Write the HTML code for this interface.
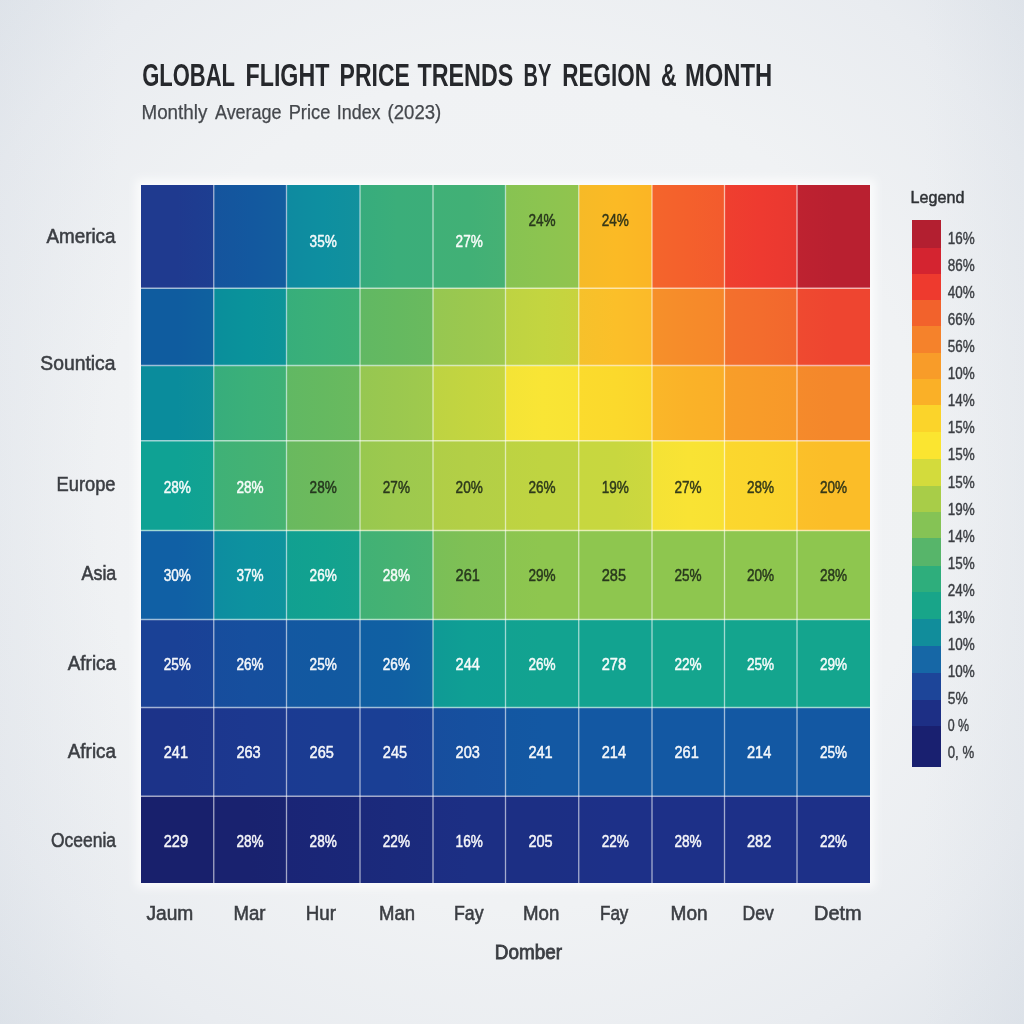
<!DOCTYPE html>
<html lang="en"><head><meta charset="utf-8"><title>Global Flight Price Trends by Region &amp; Month</title>
<style>
html,body{margin:0;padding:0;background:#eceef1;}
body{width:1024px;height:1024px;overflow:hidden;}
svg{display:block;font-family:"Liberation Sans",sans-serif;}
</style></head><body>
<svg width="1024" height="1024" viewBox="0 0 1024 1024">
<defs>
<radialGradient id="bg" cx="50%" cy="48%" r="74%">
<stop offset="0" stop-color="#f3f4f6"/><stop offset="0.55" stop-color="#f0f2f4"/><stop offset="0.8" stop-color="#e9ecf0"/><stop offset="1" stop-color="#dfe4ea"/>
</radialGradient>
<linearGradient id="le" x1="0" y1="0" x2="1" y2="0">
<stop offset="0" stop-color="#c9d1dc" stop-opacity="0.16"/><stop offset="1" stop-color="#c9d1dc" stop-opacity="0"/>
</linearGradient>
<linearGradient id="re" x1="1" y1="0" x2="0" y2="0">
<stop offset="0" stop-color="#c9d1dc" stop-opacity="0.16"/><stop offset="1" stop-color="#c9d1dc" stop-opacity="0"/>
</linearGradient>
<filter id="gl" x="-5%" y="-5%" width="110%" height="110%"><feGaussianBlur stdDeviation="4"/></filter>
</defs>
<rect width="1024" height="1024" fill="url(#bg)"/>
<rect x="0" y="0" width="120" height="1024" fill="url(#le)"/>
<rect x="924" y="0" width="100" height="1024" fill="url(#re)"/>
<g font-size="31.5" font-weight="bold" fill="#26282c">
<text x="142.2" y="86.2" textLength="92.8" lengthAdjust="spacingAndGlyphs">GLOBAL</text>
<text x="245.5" y="86.2" textLength="83.9" lengthAdjust="spacingAndGlyphs">FLIGHT</text>
<text x="339.6" y="86.2" textLength="70.2" lengthAdjust="spacingAndGlyphs">PRICE</text>
<text x="417.5" y="86.2" textLength="95.8" lengthAdjust="spacingAndGlyphs">TRENDS</text>
<text x="523.6" y="86.2" textLength="27.8" lengthAdjust="spacingAndGlyphs">BY</text>
<text x="562.3" y="86.2" textLength="88.7" lengthAdjust="spacingAndGlyphs">REGION</text>
<text x="661" y="86.2" textLength="15.6" lengthAdjust="spacingAndGlyphs">&amp;</text>
<text x="685" y="86.2" textLength="87.3" lengthAdjust="spacingAndGlyphs">MONTH</text>
</g>
<g font-size="19.5" fill="#45484d" stroke="#45484d" stroke-width="0.25">
<text x="141.5" y="119.4" textLength="65.8" lengthAdjust="spacingAndGlyphs">Monthly</text>
<text x="215" y="119.4" textLength="66.5" lengthAdjust="spacingAndGlyphs">Average</text>
<text x="288.7" y="119.4" textLength="41.6" lengthAdjust="spacingAndGlyphs">Price</text>
<text x="336.8" y="119.4" textLength="43.7" lengthAdjust="spacingAndGlyphs">Index</text>
<text x="387.6" y="119.4" textLength="53.7" lengthAdjust="spacingAndGlyphs">(2023)</text>
</g>
<rect x="136" y="179.5" width="739" height="708" fill="#ffffff" fill-opacity="0.75" filter="url(#gl)"/>
<defs>
<linearGradient id="c00"><stop offset="0" stop-color="#1f3a8f"/><stop offset="0.5" stop-color="#1f3a8f"/><stop offset="1" stop-color="#1d3e91"/></linearGradient>
<linearGradient id="c01"><stop offset="0" stop-color="#15549d"/><stop offset="0.5" stop-color="#13589f"/><stop offset="1" stop-color="#135d9f"/></linearGradient>
<linearGradient id="c02"><stop offset="0" stop-color="#0e8aa0"/><stop offset="0.5" stop-color="#0e8fa0"/><stop offset="1" stop-color="#12919d"/></linearGradient>
<linearGradient id="c03"><stop offset="0" stop-color="#37ac7d"/><stop offset="0.5" stop-color="#3bae7a"/><stop offset="1" stop-color="#3cae79"/></linearGradient>
<linearGradient id="c04"><stop offset="0" stop-color="#40b077"/><stop offset="0.5" stop-color="#41b076"/><stop offset="1" stop-color="#46b174"/></linearGradient>
<linearGradient id="c05"><stop offset="0" stop-color="#87c352"/><stop offset="0.5" stop-color="#8cc450"/><stop offset="1" stop-color="#91c44e"/></linearGradient>
<linearGradient id="c06"><stop offset="0" stop-color="#f6ba27"/><stop offset="0.5" stop-color="#fbba25"/><stop offset="1" stop-color="#fbb525"/></linearGradient>
<linearGradient id="c07"><stop offset="0" stop-color="#f4652c"/><stop offset="0.5" stop-color="#f4602c"/><stop offset="1" stop-color="#f35b2d"/></linearGradient>
<linearGradient id="c08"><stop offset="0" stop-color="#ef3f2f"/><stop offset="0.5" stop-color="#ee3a30"/><stop offset="1" stop-color="#e93830"/></linearGradient>
<linearGradient id="c09"><stop offset="0" stop-color="#be2230"/><stop offset="0.5" stop-color="#b92030"/><stop offset="1" stop-color="#b92030"/></linearGradient>
<linearGradient id="c10"><stop offset="0" stop-color="#0f5c9f"/><stop offset="0.5" stop-color="#0f5c9f"/><stop offset="1" stop-color="#0f619f"/></linearGradient>
<linearGradient id="c11"><stop offset="0" stop-color="#0a8e9b"/><stop offset="0.5" stop-color="#0a939b"/><stop offset="1" stop-color="#0e9598"/></linearGradient>
<linearGradient id="c12"><stop offset="0" stop-color="#37ae7b"/><stop offset="0.5" stop-color="#3bb078"/><stop offset="1" stop-color="#3fb175"/></linearGradient>
<linearGradient id="c13"><stop offset="0" stop-color="#61b863"/><stop offset="0.5" stop-color="#65b960"/><stop offset="1" stop-color="#6aba5e"/></linearGradient>
<linearGradient id="c14"><stop offset="0" stop-color="#96c751"/><stop offset="0.5" stop-color="#9bc84f"/><stop offset="1" stop-color="#a0ca4d"/></linearGradient>
<linearGradient id="c15"><stop offset="0" stop-color="#bed342"/><stop offset="0.5" stop-color="#c3d540"/><stop offset="1" stop-color="#c8d33e"/></linearGradient>
<linearGradient id="c16"><stop offset="0" stop-color="#f6c12b"/><stop offset="0.5" stop-color="#fbbf29"/><stop offset="1" stop-color="#fbba29"/></linearGradient>
<linearGradient id="c17"><stop offset="0" stop-color="#f6902a"/><stop offset="0.5" stop-color="#f68b2a"/><stop offset="1" stop-color="#f6872a"/></linearGradient>
<linearGradient id="c18"><stop offset="0" stop-color="#f3702d"/><stop offset="0.5" stop-color="#f36c2d"/><stop offset="1" stop-color="#f2672d"/></linearGradient>
<linearGradient id="c19"><stop offset="0" stop-color="#ef4a30"/><stop offset="0.5" stop-color="#ee4530"/><stop offset="1" stop-color="#ee4530"/></linearGradient>
<linearGradient id="c20"><stop offset="0" stop-color="#0a8c9c"/><stop offset="0.5" stop-color="#0a8c9c"/><stop offset="1" stop-color="#0e8f99"/></linearGradient>
<linearGradient id="c21"><stop offset="0" stop-color="#37ad7c"/><stop offset="0.5" stop-color="#3bb079"/><stop offset="1" stop-color="#3fb176"/></linearGradient>
<linearGradient id="c22"><stop offset="0" stop-color="#61b863"/><stop offset="0.5" stop-color="#65b960"/><stop offset="1" stop-color="#6aba5e"/></linearGradient>
<linearGradient id="c23"><stop offset="0" stop-color="#96c751"/><stop offset="0.5" stop-color="#9bc84f"/><stop offset="1" stop-color="#a0ca4d"/></linearGradient>
<linearGradient id="c24"><stop offset="0" stop-color="#bed342"/><stop offset="0.5" stop-color="#c3d540"/><stop offset="1" stop-color="#c8d63f"/></linearGradient>
<linearGradient id="c25"><stop offset="0" stop-color="#f4e436"/><stop offset="0.5" stop-color="#f9e535"/><stop offset="1" stop-color="#f9e334"/></linearGradient>
<linearGradient id="c26"><stop offset="0" stop-color="#fbdb2d"/><stop offset="0.5" stop-color="#fbd92c"/><stop offset="1" stop-color="#fbd42b"/></linearGradient>
<linearGradient id="c27"><stop offset="0" stop-color="#fab729"/><stop offset="0.5" stop-color="#fab228"/><stop offset="1" stop-color="#faaf28"/></linearGradient>
<linearGradient id="c28"><stop offset="0" stop-color="#f89e29"/><stop offset="0.5" stop-color="#f89b29"/><stop offset="1" stop-color="#f79829"/></linearGradient>
<linearGradient id="c29"><stop offset="0" stop-color="#f58a2b"/><stop offset="0.5" stop-color="#f4872b"/><stop offset="1" stop-color="#f4872b"/></linearGradient>
<linearGradient id="c30"><stop offset="0" stop-color="#0fa294"/><stop offset="0.5" stop-color="#0fa294"/><stop offset="1" stop-color="#13a391"/></linearGradient>
<linearGradient id="c31"><stop offset="0" stop-color="#3fb177"/><stop offset="0.5" stop-color="#43b274"/><stop offset="1" stop-color="#47b371"/></linearGradient>
<linearGradient id="c32"><stop offset="0" stop-color="#69b95f"/><stop offset="0.5" stop-color="#6dba5c"/><stop offset="1" stop-color="#72bb5b"/></linearGradient>
<linearGradient id="c33"><stop offset="0" stop-color="#98c84f"/><stop offset="0.5" stop-color="#9dc94e"/><stop offset="1" stop-color="#a0ca4d"/></linearGradient>
<linearGradient id="c34"><stop offset="0" stop-color="#b0ce47"/><stop offset="0.5" stop-color="#b3cf46"/><stop offset="1" stop-color="#b5d045"/></linearGradient>
<linearGradient id="c35"><stop offset="0" stop-color="#bdd342"/><stop offset="0.5" stop-color="#bfd441"/><stop offset="1" stop-color="#c0d441"/></linearGradient>
<linearGradient id="c36"><stop offset="0" stop-color="#c7d73f"/><stop offset="0.5" stop-color="#c8d73f"/><stop offset="1" stop-color="#cdd83e"/></linearGradient>
<linearGradient id="c37"><stop offset="0" stop-color="#f4e235"/><stop offset="0.5" stop-color="#f9e334"/><stop offset="1" stop-color="#f9e133"/></linearGradient>
<linearGradient id="c38"><stop offset="0" stop-color="#fbd72e"/><stop offset="0.5" stop-color="#fbd52d"/><stop offset="1" stop-color="#fbd22c"/></linearGradient>
<linearGradient id="c39"><stop offset="0" stop-color="#fbc029"/><stop offset="0.5" stop-color="#fbbd28"/><stop offset="1" stop-color="#fbbd28"/></linearGradient>
<linearGradient id="c40"><stop offset="0" stop-color="#1060a5"/><stop offset="0.5" stop-color="#1060a5"/><stop offset="1" stop-color="#1065a4"/></linearGradient>
<linearGradient id="c41"><stop offset="0" stop-color="#0d8da0"/><stop offset="0.5" stop-color="#0d929f"/><stop offset="1" stop-color="#0e949d"/></linearGradient>
<linearGradient id="c42"><stop offset="0" stop-color="#11a091"/><stop offset="0.5" stop-color="#12a28f"/><stop offset="1" stop-color="#16a38d"/></linearGradient>
<linearGradient id="c43"><stop offset="0" stop-color="#41b175"/><stop offset="0.5" stop-color="#45b273"/><stop offset="1" stop-color="#4ab371"/></linearGradient>
<linearGradient id="c44"><stop offset="0" stop-color="#7abf57"/><stop offset="0.5" stop-color="#7fc055"/><stop offset="1" stop-color="#81c154"/></linearGradient>
<linearGradient id="c45"><stop offset="0" stop-color="#8cc550"/><stop offset="0.5" stop-color="#8ec64f"/><stop offset="1" stop-color="#8ec64f"/></linearGradient>
<linearGradient id="c46"><stop offset="0" stop-color="#8ec64f"/><stop offset="0.5" stop-color="#8ec64f"/><stop offset="1" stop-color="#8ec64f"/></linearGradient>
<linearGradient id="c47"><stop offset="0" stop-color="#8ec64f"/><stop offset="0.5" stop-color="#8ec64f"/><stop offset="1" stop-color="#8ec64f"/></linearGradient>
<linearGradient id="c48"><stop offset="0" stop-color="#8ec64f"/><stop offset="0.5" stop-color="#8ec64f"/><stop offset="1" stop-color="#8ec64f"/></linearGradient>
<linearGradient id="c49"><stop offset="0" stop-color="#8ec64f"/><stop offset="0.5" stop-color="#8ec64f"/><stop offset="1" stop-color="#8ec64f"/></linearGradient>
<linearGradient id="c50"><stop offset="0" stop-color="#1a4196"/><stop offset="0.5" stop-color="#1a4196"/><stop offset="1" stop-color="#194397"/></linearGradient>
<linearGradient id="c51"><stop offset="0" stop-color="#174d9d"/><stop offset="0.5" stop-color="#164f9e"/><stop offset="1" stop-color="#15509e"/></linearGradient>
<linearGradient id="c52"><stop offset="0" stop-color="#1358a1"/><stop offset="0.5" stop-color="#1259a1"/><stop offset="1" stop-color="#125aa1"/></linearGradient>
<linearGradient id="c53"><stop offset="0" stop-color="#105fa3"/><stop offset="0.5" stop-color="#1060a3"/><stop offset="1" stop-color="#1065a2"/></linearGradient>
<linearGradient id="c54"><stop offset="0" stop-color="#0f9a95"/><stop offset="0.5" stop-color="#0f9f94"/><stop offset="1" stop-color="#0fa093"/></linearGradient>
<linearGradient id="c55"><stop offset="0" stop-color="#12a291"/><stop offset="0.5" stop-color="#12a390"/><stop offset="1" stop-color="#12a390"/></linearGradient>
<linearGradient id="c56"><stop offset="0" stop-color="#12a390"/><stop offset="0.5" stop-color="#12a390"/><stop offset="1" stop-color="#12a390"/></linearGradient>
<linearGradient id="c57"><stop offset="0" stop-color="#14a58e"/><stop offset="0.5" stop-color="#14a58e"/><stop offset="1" stop-color="#14a58e"/></linearGradient>
<linearGradient id="c58"><stop offset="0" stop-color="#14a58e"/><stop offset="0.5" stop-color="#14a58e"/><stop offset="1" stop-color="#14a58e"/></linearGradient>
<linearGradient id="c59"><stop offset="0" stop-color="#14a58e"/><stop offset="0.5" stop-color="#14a58e"/><stop offset="1" stop-color="#14a58e"/></linearGradient>
<linearGradient id="c60"><stop offset="0" stop-color="#1c3389"/><stop offset="0.5" stop-color="#1c3389"/><stop offset="1" stop-color="#1c348a"/></linearGradient>
<linearGradient id="c61"><stop offset="0" stop-color="#1c378e"/><stop offset="0.5" stop-color="#1c388f"/><stop offset="1" stop-color="#1c398f"/></linearGradient>
<linearGradient id="c62"><stop offset="0" stop-color="#1b3b92"/><stop offset="0.5" stop-color="#1b3c92"/><stop offset="1" stop-color="#1b3c92"/></linearGradient>
<linearGradient id="c63"><stop offset="0" stop-color="#1a3f95"/><stop offset="0.5" stop-color="#1a3f95"/><stop offset="1" stop-color="#194196"/></linearGradient>
<linearGradient id="c64"><stop offset="0" stop-color="#174e9e"/><stop offset="0.5" stop-color="#16509f"/><stop offset="1" stop-color="#1651a0"/></linearGradient>
<linearGradient id="c65"><stop offset="0" stop-color="#1357a2"/><stop offset="0.5" stop-color="#1358a3"/><stop offset="1" stop-color="#1358a3"/></linearGradient>
<linearGradient id="c66"><stop offset="0" stop-color="#1358a3"/><stop offset="0.5" stop-color="#1358a3"/><stop offset="1" stop-color="#1358a3"/></linearGradient>
<linearGradient id="c67"><stop offset="0" stop-color="#1358a3"/><stop offset="0.5" stop-color="#1358a3"/><stop offset="1" stop-color="#1358a3"/></linearGradient>
<linearGradient id="c68"><stop offset="0" stop-color="#1358a3"/><stop offset="0.5" stop-color="#1358a3"/><stop offset="1" stop-color="#1358a3"/></linearGradient>
<linearGradient id="c69"><stop offset="0" stop-color="#1358a3"/><stop offset="0.5" stop-color="#1358a3"/><stop offset="1" stop-color="#1358a3"/></linearGradient>
<linearGradient id="c70"><stop offset="0" stop-color="#18206c"/><stop offset="0.5" stop-color="#18206c"/><stop offset="1" stop-color="#18206c"/></linearGradient>
<linearGradient id="c71"><stop offset="0" stop-color="#19226f"/><stop offset="0.5" stop-color="#19226f"/><stop offset="1" stop-color="#192370"/></linearGradient>
<linearGradient id="c72"><stop offset="0" stop-color="#1a2576"/><stop offset="0.5" stop-color="#1a2677"/><stop offset="1" stop-color="#1a2778"/></linearGradient>
<linearGradient id="c73"><stop offset="0" stop-color="#1b297b"/><stop offset="0.5" stop-color="#1b2a7c"/><stop offset="1" stop-color="#1b2b7d"/></linearGradient>
<linearGradient id="c74"><stop offset="0" stop-color="#1c2e83"/><stop offset="0.5" stop-color="#1c2f84"/><stop offset="1" stop-color="#1c2f84"/></linearGradient>
<linearGradient id="c75"><stop offset="0" stop-color="#1c2f84"/><stop offset="0.5" stop-color="#1c2f84"/><stop offset="1" stop-color="#1c2f85"/></linearGradient>
<linearGradient id="c76"><stop offset="0" stop-color="#1d3087"/><stop offset="0.5" stop-color="#1d3088"/><stop offset="1" stop-color="#1d3088"/></linearGradient>
<linearGradient id="c77"><stop offset="0" stop-color="#1d3088"/><stop offset="0.5" stop-color="#1d3088"/><stop offset="1" stop-color="#1d3088"/></linearGradient>
<linearGradient id="c78"><stop offset="0" stop-color="#1d3088"/><stop offset="0.5" stop-color="#1d3088"/><stop offset="1" stop-color="#1d3088"/></linearGradient>
<linearGradient id="c79"><stop offset="0" stop-color="#1d3088"/><stop offset="0.5" stop-color="#1d3088"/><stop offset="1" stop-color="#1d3088"/></linearGradient>
</defs>
<g shape-rendering="crispEdges">
<rect x="141" y="184.5" width="73.25" height="104.25" fill="url(#c00)"/>
<rect x="213.75" y="184.5" width="73.25" height="104.25" fill="url(#c01)"/>
<rect x="286.5" y="184.5" width="74.0" height="104.25" fill="url(#c02)"/>
<rect x="360" y="184.5" width="73.5" height="104.25" fill="url(#c03)"/>
<rect x="433" y="184.5" width="73.0" height="104.25" fill="url(#c04)"/>
<rect x="505.5" y="184.5" width="73.75" height="104.25" fill="url(#c05)"/>
<rect x="578.75" y="184.5" width="73.75" height="104.25" fill="url(#c06)"/>
<rect x="652" y="184.5" width="73.0" height="104.25" fill="url(#c07)"/>
<rect x="724.5" y="184.5" width="73.0" height="104.25" fill="url(#c08)"/>
<rect x="797" y="184.5" width="73.20000000000005" height="104.25" fill="url(#c09)"/>
<rect x="141" y="288.25" width="73.25" height="77.75" fill="url(#c10)"/>
<rect x="213.75" y="288.25" width="73.25" height="77.75" fill="url(#c11)"/>
<rect x="286.5" y="288.25" width="74.0" height="77.75" fill="url(#c12)"/>
<rect x="360" y="288.25" width="73.5" height="77.75" fill="url(#c13)"/>
<rect x="433" y="288.25" width="73.0" height="77.75" fill="url(#c14)"/>
<rect x="505.5" y="288.25" width="73.75" height="77.75" fill="url(#c15)"/>
<rect x="578.75" y="288.25" width="73.75" height="77.75" fill="url(#c16)"/>
<rect x="652" y="288.25" width="73.0" height="77.75" fill="url(#c17)"/>
<rect x="724.5" y="288.25" width="73.0" height="77.75" fill="url(#c18)"/>
<rect x="797" y="288.25" width="73.20000000000005" height="77.75" fill="url(#c19)"/>
<rect x="141" y="365.5" width="73.25" height="75.75" fill="url(#c20)"/>
<rect x="213.75" y="365.5" width="73.25" height="75.75" fill="url(#c21)"/>
<rect x="286.5" y="365.5" width="74.0" height="75.75" fill="url(#c22)"/>
<rect x="360" y="365.5" width="73.5" height="75.75" fill="url(#c23)"/>
<rect x="433" y="365.5" width="73.0" height="75.75" fill="url(#c24)"/>
<rect x="505.5" y="365.5" width="73.75" height="75.75" fill="url(#c25)"/>
<rect x="578.75" y="365.5" width="73.75" height="75.75" fill="url(#c26)"/>
<rect x="652" y="365.5" width="73.0" height="75.75" fill="url(#c27)"/>
<rect x="724.5" y="365.5" width="73.0" height="75.75" fill="url(#c28)"/>
<rect x="797" y="365.5" width="73.20000000000005" height="75.75" fill="url(#c29)"/>
<rect x="141" y="440.75" width="73.25" height="90.25" fill="url(#c30)"/>
<rect x="213.75" y="440.75" width="73.25" height="90.25" fill="url(#c31)"/>
<rect x="286.5" y="440.75" width="74.0" height="90.25" fill="url(#c32)"/>
<rect x="360" y="440.75" width="73.5" height="90.25" fill="url(#c33)"/>
<rect x="433" y="440.75" width="73.0" height="90.25" fill="url(#c34)"/>
<rect x="505.5" y="440.75" width="73.75" height="90.25" fill="url(#c35)"/>
<rect x="578.75" y="440.75" width="73.75" height="90.25" fill="url(#c36)"/>
<rect x="652" y="440.75" width="73.0" height="90.25" fill="url(#c37)"/>
<rect x="724.5" y="440.75" width="73.0" height="90.25" fill="url(#c38)"/>
<rect x="797" y="440.75" width="73.20000000000005" height="90.25" fill="url(#c39)"/>
<rect x="141" y="530.5" width="73.25" height="89.5" fill="url(#c40)"/>
<rect x="213.75" y="530.5" width="73.25" height="89.5" fill="url(#c41)"/>
<rect x="286.5" y="530.5" width="74.0" height="89.5" fill="url(#c42)"/>
<rect x="360" y="530.5" width="73.5" height="89.5" fill="url(#c43)"/>
<rect x="433" y="530.5" width="73.0" height="89.5" fill="url(#c44)"/>
<rect x="505.5" y="530.5" width="73.75" height="89.5" fill="url(#c45)"/>
<rect x="578.75" y="530.5" width="73.75" height="89.5" fill="url(#c46)"/>
<rect x="652" y="530.5" width="73.0" height="89.5" fill="url(#c47)"/>
<rect x="724.5" y="530.5" width="73.0" height="89.5" fill="url(#c48)"/>
<rect x="797" y="530.5" width="73.20000000000005" height="89.5" fill="url(#c49)"/>
<rect x="141" y="619.5" width="73.25" height="88.5" fill="url(#c50)"/>
<rect x="213.75" y="619.5" width="73.25" height="88.5" fill="url(#c51)"/>
<rect x="286.5" y="619.5" width="74.0" height="88.5" fill="url(#c52)"/>
<rect x="360" y="619.5" width="73.5" height="88.5" fill="url(#c53)"/>
<rect x="433" y="619.5" width="73.0" height="88.5" fill="url(#c54)"/>
<rect x="505.5" y="619.5" width="73.75" height="88.5" fill="url(#c55)"/>
<rect x="578.75" y="619.5" width="73.75" height="88.5" fill="url(#c56)"/>
<rect x="652" y="619.5" width="73.0" height="88.5" fill="url(#c57)"/>
<rect x="724.5" y="619.5" width="73.0" height="88.5" fill="url(#c58)"/>
<rect x="797" y="619.5" width="73.20000000000005" height="88.5" fill="url(#c59)"/>
<rect x="141" y="707.5" width="73.25" height="89.25" fill="url(#c60)"/>
<rect x="213.75" y="707.5" width="73.25" height="89.25" fill="url(#c61)"/>
<rect x="286.5" y="707.5" width="74.0" height="89.25" fill="url(#c62)"/>
<rect x="360" y="707.5" width="73.5" height="89.25" fill="url(#c63)"/>
<rect x="433" y="707.5" width="73.0" height="89.25" fill="url(#c64)"/>
<rect x="505.5" y="707.5" width="73.75" height="89.25" fill="url(#c65)"/>
<rect x="578.75" y="707.5" width="73.75" height="89.25" fill="url(#c66)"/>
<rect x="652" y="707.5" width="73.0" height="89.25" fill="url(#c67)"/>
<rect x="724.5" y="707.5" width="73.0" height="89.25" fill="url(#c68)"/>
<rect x="797" y="707.5" width="73.20000000000005" height="89.25" fill="url(#c69)"/>
<rect x="141" y="796.25" width="73.25" height="86.75" fill="url(#c70)"/>
<rect x="213.75" y="796.25" width="73.25" height="86.75" fill="url(#c71)"/>
<rect x="286.5" y="796.25" width="74.0" height="86.75" fill="url(#c72)"/>
<rect x="360" y="796.25" width="73.5" height="86.75" fill="url(#c73)"/>
<rect x="433" y="796.25" width="73.0" height="86.75" fill="url(#c74)"/>
<rect x="505.5" y="796.25" width="73.75" height="86.75" fill="url(#c75)"/>
<rect x="578.75" y="796.25" width="73.75" height="86.75" fill="url(#c76)"/>
<rect x="652" y="796.25" width="73.0" height="86.75" fill="url(#c77)"/>
<rect x="724.5" y="796.25" width="73.0" height="86.75" fill="url(#c78)"/>
<rect x="797" y="796.25" width="73.20000000000005" height="86.75" fill="url(#c79)"/>
</g>
<g stroke="#ffffff" stroke-opacity="0.6" stroke-width="1.3">
<line x1="213.75" y1="184.5" x2="213.75" y2="883"/>
<line x1="286.5" y1="184.5" x2="286.5" y2="883"/>
<line x1="360" y1="184.5" x2="360" y2="883"/>
<line x1="433" y1="184.5" x2="433" y2="883"/>
<line x1="505.5" y1="184.5" x2="505.5" y2="883"/>
<line x1="578.75" y1="184.5" x2="578.75" y2="883"/>
<line x1="652" y1="184.5" x2="652" y2="883"/>
<line x1="724.5" y1="184.5" x2="724.5" y2="883"/>
<line x1="797" y1="184.5" x2="797" y2="883"/>
<line x1="141" y1="288.25" x2="870.2" y2="288.25"/>
<line x1="141" y1="365.5" x2="870.2" y2="365.5"/>
<line x1="141" y1="440.75" x2="870.2" y2="440.75"/>
<line x1="141" y1="530.5" x2="870.2" y2="530.5"/>
<line x1="141" y1="619.5" x2="870.2" y2="619.5"/>
<line x1="141" y1="707.5" x2="870.2" y2="707.5"/>
<line x1="141" y1="796.25" x2="870.2" y2="796.25"/>
</g>
<g font-size="17" stroke-width="0.5" stroke-linejoin="round">
<text x="309.6" y="247.2" fill="#ffffff" stroke="#ffffff" fill-opacity="0.93" stroke-opacity="0.93" textLength="27.2" lengthAdjust="spacingAndGlyphs">35%</text>
<text x="455.6" y="247.2" fill="#ffffff" stroke="#ffffff" fill-opacity="0.93" stroke-opacity="0.93" textLength="27.2" lengthAdjust="spacingAndGlyphs">27%</text>
<text x="528.4" y="226.4" fill="#1c2616" stroke="#1c2616" fill-opacity="0.86" stroke-opacity="0.86" textLength="27.2" lengthAdjust="spacingAndGlyphs">24%</text>
<text x="601.7" y="226.4" fill="#1c2616" stroke="#1c2616" fill-opacity="0.86" stroke-opacity="0.86" textLength="27.2" lengthAdjust="spacingAndGlyphs">24%</text>
<text x="163.7" y="492.6" fill="#ffffff" stroke="#ffffff" fill-opacity="0.93" stroke-opacity="0.93" textLength="27.2" lengthAdjust="spacingAndGlyphs">28%</text>
<text x="236.4" y="492.6" fill="#ffffff" stroke="#ffffff" fill-opacity="0.93" stroke-opacity="0.93" textLength="27.2" lengthAdjust="spacingAndGlyphs">28%</text>
<text x="309.6" y="492.6" fill="#1c2616" stroke="#1c2616" fill-opacity="0.86" stroke-opacity="0.86" textLength="27.2" lengthAdjust="spacingAndGlyphs">28%</text>
<text x="382.8" y="492.6" fill="#1c2616" stroke="#1c2616" fill-opacity="0.86" stroke-opacity="0.86" textLength="27.2" lengthAdjust="spacingAndGlyphs">27%</text>
<text x="455.6" y="492.6" fill="#1c2616" stroke="#1c2616" fill-opacity="0.86" stroke-opacity="0.86" textLength="27.2" lengthAdjust="spacingAndGlyphs">20%</text>
<text x="528.4" y="492.6" fill="#1c2616" stroke="#1c2616" fill-opacity="0.86" stroke-opacity="0.86" textLength="27.2" lengthAdjust="spacingAndGlyphs">26%</text>
<text x="601.7" y="492.6" fill="#1c2616" stroke="#1c2616" fill-opacity="0.86" stroke-opacity="0.86" textLength="27.2" lengthAdjust="spacingAndGlyphs">19%</text>
<text x="674.5" y="492.6" fill="#1c2616" stroke="#1c2616" fill-opacity="0.86" stroke-opacity="0.86" textLength="27.2" lengthAdjust="spacingAndGlyphs">27%</text>
<text x="747.0" y="492.6" fill="#1c2616" stroke="#1c2616" fill-opacity="0.86" stroke-opacity="0.86" textLength="27.2" lengthAdjust="spacingAndGlyphs">28%</text>
<text x="819.9" y="492.6" fill="#1c2616" stroke="#1c2616" fill-opacity="0.86" stroke-opacity="0.86" textLength="27.2" lengthAdjust="spacingAndGlyphs">20%</text>
<text x="163.7" y="581.2" fill="#ffffff" stroke="#ffffff" fill-opacity="0.93" stroke-opacity="0.93" textLength="27.2" lengthAdjust="spacingAndGlyphs">30%</text>
<text x="236.4" y="581.2" fill="#ffffff" stroke="#ffffff" fill-opacity="0.93" stroke-opacity="0.93" textLength="27.2" lengthAdjust="spacingAndGlyphs">37%</text>
<text x="309.6" y="581.2" fill="#ffffff" stroke="#ffffff" fill-opacity="0.93" stroke-opacity="0.93" textLength="27.2" lengthAdjust="spacingAndGlyphs">26%</text>
<text x="382.8" y="581.2" fill="#ffffff" stroke="#ffffff" fill-opacity="0.93" stroke-opacity="0.93" textLength="27.2" lengthAdjust="spacingAndGlyphs">28%</text>
<text x="455.6" y="581.2" fill="#1c2616" stroke="#1c2616" fill-opacity="0.86" stroke-opacity="0.86" textLength="24.3" lengthAdjust="spacingAndGlyphs">261</text>
<text x="528.4" y="581.2" fill="#1c2616" stroke="#1c2616" fill-opacity="0.86" stroke-opacity="0.86" textLength="27.2" lengthAdjust="spacingAndGlyphs">29%</text>
<text x="601.7" y="581.2" fill="#1c2616" stroke="#1c2616" fill-opacity="0.86" stroke-opacity="0.86" textLength="24.3" lengthAdjust="spacingAndGlyphs">285</text>
<text x="674.5" y="581.2" fill="#1c2616" stroke="#1c2616" fill-opacity="0.86" stroke-opacity="0.86" textLength="27.2" lengthAdjust="spacingAndGlyphs">25%</text>
<text x="747.0" y="581.2" fill="#1c2616" stroke="#1c2616" fill-opacity="0.86" stroke-opacity="0.86" textLength="27.2" lengthAdjust="spacingAndGlyphs">20%</text>
<text x="819.9" y="581.2" fill="#1c2616" stroke="#1c2616" fill-opacity="0.86" stroke-opacity="0.86" textLength="27.2" lengthAdjust="spacingAndGlyphs">28%</text>
<text x="163.7" y="670.2" fill="#ffffff" stroke="#ffffff" fill-opacity="0.93" stroke-opacity="0.93" textLength="27.2" lengthAdjust="spacingAndGlyphs">25%</text>
<text x="236.4" y="670.2" fill="#ffffff" stroke="#ffffff" fill-opacity="0.93" stroke-opacity="0.93" textLength="27.2" lengthAdjust="spacingAndGlyphs">26%</text>
<text x="309.6" y="670.2" fill="#ffffff" stroke="#ffffff" fill-opacity="0.93" stroke-opacity="0.93" textLength="27.2" lengthAdjust="spacingAndGlyphs">25%</text>
<text x="382.8" y="670.2" fill="#ffffff" stroke="#ffffff" fill-opacity="0.93" stroke-opacity="0.93" textLength="27.2" lengthAdjust="spacingAndGlyphs">26%</text>
<text x="455.6" y="670.2" fill="#ffffff" stroke="#ffffff" fill-opacity="0.93" stroke-opacity="0.93" textLength="24.3" lengthAdjust="spacingAndGlyphs">244</text>
<text x="528.4" y="670.2" fill="#ffffff" stroke="#ffffff" fill-opacity="0.93" stroke-opacity="0.93" textLength="27.2" lengthAdjust="spacingAndGlyphs">26%</text>
<text x="601.7" y="670.2" fill="#ffffff" stroke="#ffffff" fill-opacity="0.93" stroke-opacity="0.93" textLength="24.3" lengthAdjust="spacingAndGlyphs">278</text>
<text x="674.5" y="670.2" fill="#ffffff" stroke="#ffffff" fill-opacity="0.93" stroke-opacity="0.93" textLength="27.2" lengthAdjust="spacingAndGlyphs">22%</text>
<text x="747.0" y="670.2" fill="#ffffff" stroke="#ffffff" fill-opacity="0.93" stroke-opacity="0.93" textLength="27.2" lengthAdjust="spacingAndGlyphs">25%</text>
<text x="819.9" y="670.2" fill="#ffffff" stroke="#ffffff" fill-opacity="0.93" stroke-opacity="0.93" textLength="27.2" lengthAdjust="spacingAndGlyphs">29%</text>
<text x="163.7" y="758.3" fill="#ffffff" stroke="#ffffff" fill-opacity="0.93" stroke-opacity="0.93" textLength="24.3" lengthAdjust="spacingAndGlyphs">241</text>
<text x="236.4" y="758.3" fill="#ffffff" stroke="#ffffff" fill-opacity="0.93" stroke-opacity="0.93" textLength="24.3" lengthAdjust="spacingAndGlyphs">263</text>
<text x="309.6" y="758.3" fill="#ffffff" stroke="#ffffff" fill-opacity="0.93" stroke-opacity="0.93" textLength="24.3" lengthAdjust="spacingAndGlyphs">265</text>
<text x="382.8" y="758.3" fill="#ffffff" stroke="#ffffff" fill-opacity="0.93" stroke-opacity="0.93" textLength="24.3" lengthAdjust="spacingAndGlyphs">245</text>
<text x="455.6" y="758.3" fill="#ffffff" stroke="#ffffff" fill-opacity="0.93" stroke-opacity="0.93" textLength="24.3" lengthAdjust="spacingAndGlyphs">203</text>
<text x="528.4" y="758.3" fill="#ffffff" stroke="#ffffff" fill-opacity="0.93" stroke-opacity="0.93" textLength="24.3" lengthAdjust="spacingAndGlyphs">241</text>
<text x="601.7" y="758.3" fill="#ffffff" stroke="#ffffff" fill-opacity="0.93" stroke-opacity="0.93" textLength="24.3" lengthAdjust="spacingAndGlyphs">214</text>
<text x="674.5" y="758.3" fill="#ffffff" stroke="#ffffff" fill-opacity="0.93" stroke-opacity="0.93" textLength="24.3" lengthAdjust="spacingAndGlyphs">261</text>
<text x="747.0" y="758.3" fill="#ffffff" stroke="#ffffff" fill-opacity="0.93" stroke-opacity="0.93" textLength="24.3" lengthAdjust="spacingAndGlyphs">214</text>
<text x="819.9" y="758.3" fill="#ffffff" stroke="#ffffff" fill-opacity="0.93" stroke-opacity="0.93" textLength="27.2" lengthAdjust="spacingAndGlyphs">25%</text>
<text x="163.7" y="846.9" fill="#ffffff" stroke="#ffffff" fill-opacity="0.93" stroke-opacity="0.93" textLength="24.3" lengthAdjust="spacingAndGlyphs">229</text>
<text x="236.4" y="846.9" fill="#ffffff" stroke="#ffffff" fill-opacity="0.93" stroke-opacity="0.93" textLength="27.2" lengthAdjust="spacingAndGlyphs">28%</text>
<text x="309.6" y="846.9" fill="#ffffff" stroke="#ffffff" fill-opacity="0.93" stroke-opacity="0.93" textLength="27.2" lengthAdjust="spacingAndGlyphs">28%</text>
<text x="382.8" y="846.9" fill="#ffffff" stroke="#ffffff" fill-opacity="0.93" stroke-opacity="0.93" textLength="27.2" lengthAdjust="spacingAndGlyphs">22%</text>
<text x="455.6" y="846.9" fill="#ffffff" stroke="#ffffff" fill-opacity="0.93" stroke-opacity="0.93" textLength="27.2" lengthAdjust="spacingAndGlyphs">16%</text>
<text x="528.4" y="846.9" fill="#ffffff" stroke="#ffffff" fill-opacity="0.93" stroke-opacity="0.93" textLength="24.3" lengthAdjust="spacingAndGlyphs">205</text>
<text x="601.7" y="846.9" fill="#ffffff" stroke="#ffffff" fill-opacity="0.93" stroke-opacity="0.93" textLength="27.2" lengthAdjust="spacingAndGlyphs">22%</text>
<text x="674.5" y="846.9" fill="#ffffff" stroke="#ffffff" fill-opacity="0.93" stroke-opacity="0.93" textLength="27.2" lengthAdjust="spacingAndGlyphs">28%</text>
<text x="747.0" y="846.9" fill="#ffffff" stroke="#ffffff" fill-opacity="0.93" stroke-opacity="0.93" textLength="24.3" lengthAdjust="spacingAndGlyphs">282</text>
<text x="819.9" y="846.9" fill="#ffffff" stroke="#ffffff" fill-opacity="0.93" stroke-opacity="0.93" textLength="27.2" lengthAdjust="spacingAndGlyphs">22%</text>
</g>
<g font-size="20" fill="#3b3e43" stroke="#3b3e43" stroke-width="0.55">
<text x="46.5" y="242.5" textLength="69.0" lengthAdjust="spacingAndGlyphs">America</text>
<text x="40.3" y="370.3" textLength="75.2" lengthAdjust="spacingAndGlyphs">Sountica</text>
<text x="56.5" y="491.3" textLength="59.0" lengthAdjust="spacingAndGlyphs">Europe</text>
<text x="81.5" y="580" textLength="34.8" lengthAdjust="spacingAndGlyphs">Asia</text>
<text x="67.8" y="669.7" textLength="48.2" lengthAdjust="spacingAndGlyphs">Africa</text>
<text x="67.8" y="758" textLength="48.2" lengthAdjust="spacingAndGlyphs">Africa</text>
<text x="51" y="847" textLength="65.0" lengthAdjust="spacingAndGlyphs">Oceenia</text>
</g>
<g font-size="20.5" fill="#3b3e43" stroke="#3b3e43" stroke-width="0.6">
<text x="146.4" y="920.2" textLength="46.9" lengthAdjust="spacingAndGlyphs">Jaum</text>
<text x="233.5" y="920.2" textLength="32.0" lengthAdjust="spacingAndGlyphs">Mar</text>
<text x="305.8" y="920.2" textLength="30.2" lengthAdjust="spacingAndGlyphs">Hur</text>
<text x="379" y="920.2" textLength="36.0" lengthAdjust="spacingAndGlyphs">Man</text>
<text x="454" y="920.2" textLength="29.5" lengthAdjust="spacingAndGlyphs">Fay</text>
<text x="523" y="920.2" textLength="36.3" lengthAdjust="spacingAndGlyphs">Mon</text>
<text x="600" y="920.2" textLength="28.4" lengthAdjust="spacingAndGlyphs">Fay</text>
<text x="670.6" y="920.2" textLength="37.1" lengthAdjust="spacingAndGlyphs">Mon</text>
<text x="742.5" y="920.2" textLength="31.2" lengthAdjust="spacingAndGlyphs">Dev</text>
<text x="814" y="920.2" textLength="47.6" lengthAdjust="spacingAndGlyphs">Detm</text>
<text x="494.8" y="959.3" textLength="67.2" lengthAdjust="spacingAndGlyphs" stroke="#3b3e43" stroke-width="0.85">Domber</text>
</g>
<text x="910.6" y="202.6" font-size="17.3" fill="#2f3236" stroke="#2f3236" stroke-width="0.5" textLength="53.8" lengthAdjust="spacingAndGlyphs">Legend</text>
<g shape-rendering="crispEdges">
<rect x="912.1" y="220.30" width="28.8" height="27.70" fill="#b31f30"/>
<rect x="912.1" y="247.50" width="28.8" height="26.75" fill="#d42430"/>
<rect x="912.1" y="273.75" width="28.8" height="26.45" fill="#ee3a2e"/>
<rect x="912.1" y="299.70" width="28.8" height="27.05" fill="#f2622c"/>
<rect x="912.1" y="326.25" width="28.8" height="27.05" fill="#f5822b"/>
<rect x="912.1" y="352.80" width="28.8" height="26.45" fill="#f89c29"/>
<rect x="912.1" y="378.75" width="28.8" height="26.75" fill="#fab027"/>
<rect x="912.1" y="405.00" width="28.8" height="27.50" fill="#fbd42a"/>
<rect x="912.1" y="432.00" width="28.8" height="27.50" fill="#fbe530"/>
<rect x="912.1" y="459.00" width="28.8" height="27.10" fill="#d3db3c"/>
<rect x="912.1" y="485.60" width="28.8" height="26.90" fill="#a8cd48"/>
<rect x="912.1" y="512.00" width="28.8" height="26.50" fill="#85c355"/>
<rect x="912.1" y="538.00" width="28.8" height="28.10" fill="#57b56a"/>
<rect x="912.1" y="565.60" width="28.8" height="27.20" fill="#2eae7c"/>
<rect x="912.1" y="592.30" width="28.8" height="27.20" fill="#18a589"/>
<rect x="912.1" y="619.00" width="28.8" height="27.90" fill="#118d9b"/>
<rect x="912.1" y="646.40" width="28.8" height="27.10" fill="#1667a6"/>
<rect x="912.1" y="673.00" width="28.8" height="27.00" fill="#1d4599"/>
<rect x="912.1" y="699.50" width="28.8" height="27.40" fill="#1d2f85"/>
<rect x="912.1" y="726.40" width="28.8" height="40.60" fill="#192070"/>
</g>
<g font-size="15.8" fill="#3b3e43" stroke="#3b3e43" stroke-width="0.4">
<text x="947.75" y="243.6" textLength="26.9" lengthAdjust="spacingAndGlyphs">16%</text>
<text x="947.75" y="270.7" textLength="26.9" lengthAdjust="spacingAndGlyphs">86%</text>
<text x="947.75" y="297.8" textLength="26.9" lengthAdjust="spacingAndGlyphs">40%</text>
<text x="947.75" y="324.9" textLength="26.9" lengthAdjust="spacingAndGlyphs">66%</text>
<text x="947.75" y="352.0" textLength="26.9" lengthAdjust="spacingAndGlyphs">56%</text>
<text x="947.75" y="379.1" textLength="26.9" lengthAdjust="spacingAndGlyphs">10%</text>
<text x="947.75" y="406.2" textLength="26.9" lengthAdjust="spacingAndGlyphs">14%</text>
<text x="947.75" y="433.3" textLength="26.9" lengthAdjust="spacingAndGlyphs">15%</text>
<text x="947.75" y="460.4" textLength="26.9" lengthAdjust="spacingAndGlyphs">15%</text>
<text x="947.75" y="487.5" textLength="26.9" lengthAdjust="spacingAndGlyphs">15%</text>
<text x="947.75" y="514.5" textLength="26.9" lengthAdjust="spacingAndGlyphs">19%</text>
<text x="947.75" y="541.6" textLength="26.9" lengthAdjust="spacingAndGlyphs">14%</text>
<text x="947.75" y="568.7" textLength="26.9" lengthAdjust="spacingAndGlyphs">15%</text>
<text x="947.75" y="595.8" textLength="26.9" lengthAdjust="spacingAndGlyphs">24%</text>
<text x="947.75" y="622.9" textLength="26.9" lengthAdjust="spacingAndGlyphs">13%</text>
<text x="947.75" y="650.0" textLength="26.9" lengthAdjust="spacingAndGlyphs">10%</text>
<text x="947.75" y="677.1" textLength="26.9" lengthAdjust="spacingAndGlyphs">10%</text>
<text x="947.75" y="704.2" textLength="20" lengthAdjust="spacingAndGlyphs">5%</text>
<text x="947.75" y="731.3" textLength="21.4" lengthAdjust="spacingAndGlyphs">0 %</text>
<text x="947.75" y="758.4" textLength="26.4" lengthAdjust="spacingAndGlyphs">0, %</text>
</g>
</svg>
</body></html>
